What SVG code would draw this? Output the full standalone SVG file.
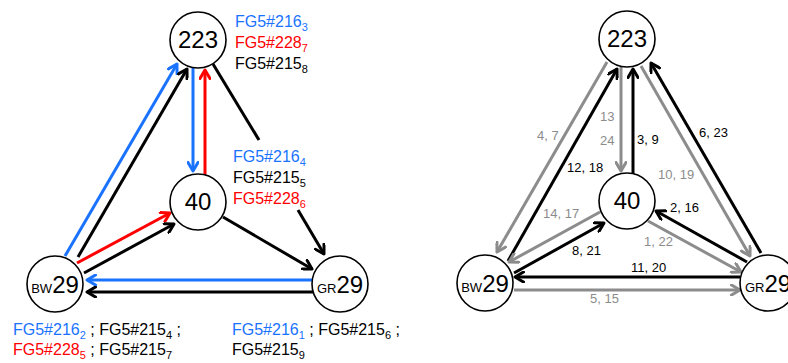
<svg xmlns="http://www.w3.org/2000/svg" width="788" height="363" viewBox="0 0 788 363">
<style>
.n circle{fill:#fff;stroke:#000;stroke-width:1.6}
.big{font-family:"Liberation Sans",Arial,sans-serif;font-size:24px;fill:#000}
.sm{font-size:13px}
.c line{stroke-width:3;fill:none}
.k{stroke:#000}
.b{stroke:#1a73ff}
.r{stroke:#ff0000}
.g{stroke:#8c8c8c}
.lab{font-family:"Liberation Sans",Arial,sans-serif;font-size:16px}
.el{font-family:"Liberation Sans",Arial,sans-serif;font-size:13px}
.tb{fill:#1a73ff}.tr{fill:#ff0000}.tk{fill:#000}.tg{fill:#8c8c8c}
</style>
<defs>
<marker id="mk" viewBox="0 0 12 12" refX="10" refY="6" markerWidth="12" markerHeight="12" markerUnits="userSpaceOnUse" orient="auto"><path d="M1.5,1 L10,6 L1.5,11" fill="none" stroke="#000" stroke-width="3" stroke-linecap="round" stroke-linejoin="round"/></marker>
<marker id="mb" viewBox="0 0 12 12" refX="10" refY="6" markerWidth="12" markerHeight="12" markerUnits="userSpaceOnUse" orient="auto"><path d="M1.5,1 L10,6 L1.5,11" fill="none" stroke="#1a73ff" stroke-width="3" stroke-linecap="round" stroke-linejoin="round"/></marker>
<marker id="mr" viewBox="0 0 12 12" refX="10" refY="6" markerWidth="12" markerHeight="12" markerUnits="userSpaceOnUse" orient="auto"><path d="M1.5,1 L10,6 L1.5,11" fill="none" stroke="#ff0000" stroke-width="3" stroke-linecap="round" stroke-linejoin="round"/></marker>
<marker id="mg" viewBox="0 0 12 12" refX="10" refY="6" markerWidth="12" markerHeight="12" markerUnits="userSpaceOnUse" orient="auto"><path d="M1.5,1 L10,6 L1.5,11" fill="none" stroke="#8c8c8c" stroke-width="3" stroke-linecap="round" stroke-linejoin="round"/></marker>
</defs>
<rect width="788" height="363" fill="#fff"/>

<g id="connectors" class="c">
<line class="b" x1="65" y1="256" x2="177" y2="64" marker-end="url(#mb)"/>
<line class="k" x1="78" y1="257" x2="187" y2="69" marker-end="url(#mk)"/>
<line class="b" x1="193" y1="68" x2="193" y2="171" marker-end="url(#mb)"/>
<line class="r" x1="205" y1="175" x2="205" y2="70" marker-end="url(#mr)"/>
<line class="k" x1="213" y1="64" x2="259" y2="140"/>
<line class="k" x1="298" y1="210" x2="324" y2="254" marker-end="url(#mk)"/>
<line class="r" x1="77" y1="263" x2="170" y2="213" marker-end="url(#mr)"/>
<line class="k" x1="84" y1="273" x2="174" y2="224" marker-end="url(#mk)"/>
<line class="k" x1="223" y1="217" x2="312" y2="269" marker-end="url(#mk)"/>
<line class="b" x1="312" y1="280" x2="87" y2="280" marker-end="url(#mb)"/>
<line class="k" x1="313" y1="292" x2="87" y2="292" marker-end="url(#mk)"/>

<line class="g" x1="607" y1="62" x2="497" y2="252" marker-end="url(#mg)"/>
<line class="k" x1="508" y1="261" x2="617" y2="69" marker-end="url(#mk)"/>
<line class="g" x1="621" y1="67" x2="621" y2="171" marker-end="url(#mg)"/>
<line class="k" x1="633" y1="174" x2="633" y2="69" marker-end="url(#mk)"/>
<line class="g" x1="641" y1="66" x2="750" y2="256" marker-end="url(#mg)"/>
<line class="k" x1="761" y1="253" x2="651" y2="63" marker-end="url(#mk)"/>
<line class="g" x1="600" y1="212" x2="509" y2="262" marker-end="url(#mg)"/>
<line class="k" x1="514" y1="273" x2="604" y2="223" marker-end="url(#mk)"/>
<line class="k" x1="747" y1="262" x2="656" y2="211" marker-end="url(#mk)"/>
<line class="g" x1="648" y1="221" x2="741" y2="272" marker-end="url(#mg)"/>
<line class="k" x1="740" y1="277" x2="515" y2="277" marker-end="url(#mk)"/>
<line class="g" x1="514" y1="290" x2="740" y2="290" marker-end="url(#mg)"/>
</g>

<g id="n223L" class="n"><circle cx="198" cy="40" r="28"/><text class="big" x="198" y="48" text-anchor="middle">223</text></g>
<g id="n40L" class="n"><circle cx="198" cy="202" r="28"/><text class="big" x="198" y="210" text-anchor="middle">40</text></g>
<g id="nBWL" class="n"><circle cx="55" cy="284" r="28"/><text class="big" x="55" y="293" text-anchor="middle"><tspan class="sm">BW</tspan>29</text></g>
<g id="nGRL" class="n"><circle cx="340" cy="284" r="28"/><text class="big" x="340" y="293" text-anchor="middle"><tspan class="sm">GR</tspan>29</text></g>

<g id="n223R" class="n"><circle cx="627" cy="39" r="28"/><text class="big" x="627" y="47" text-anchor="middle">223</text></g>
<g id="n40R" class="n"><circle cx="627" cy="201" r="28"/><text class="big" x="627" y="209" text-anchor="middle">40</text></g>
<g id="nBWR" class="n"><circle cx="485" cy="283" r="28"/><text class="big" x="485" y="292" text-anchor="middle"><tspan class="sm">BW</tspan>29</text></g>
<g id="nGRR" class="n"><circle cx="768" cy="283" r="28"/><text class="big" x="768" y="292" text-anchor="middle"><tspan class="sm">GR</tspan>29</text></g>

<g id="labelsL" class="lab">
<text x="235" y="27" class="tb">FG5#216<tspan font-size="11" dy="4">3</tspan></text>
<text x="235" y="48" class="tr">FG5#228<tspan font-size="11" dy="4">7</tspan></text>
<text x="235" y="69" class="tk">FG5#215<tspan font-size="11" dy="4">8</tspan></text>
<text x="233" y="162" class="tb">FG5#216<tspan font-size="11" dy="4">4</tspan></text>
<text x="233" y="183" class="tk">FG5#215<tspan font-size="11" dy="4">5</tspan></text>
<text x="233" y="204" class="tr">FG5#228<tspan font-size="11" dy="4">6</tspan></text>
<text x="13" y="335"><tspan class="tb">FG5#216</tspan><tspan class="tb" font-size="11" dy="4">2</tspan><tspan class="tk" dy="-4"> ; FG5#215</tspan><tspan class="tk" font-size="11" dy="4">4</tspan><tspan class="tk" dy="-4"> ;</tspan></text>
<text x="13" y="355"><tspan class="tr">FG5#228</tspan><tspan class="tr" font-size="11" dy="4">5</tspan><tspan class="tk" dy="-4"> ; FG5#215</tspan><tspan class="tk" font-size="11" dy="4">7</tspan></text>
<text x="232" y="335"><tspan class="tb">FG5#216</tspan><tspan class="tb" font-size="11" dy="4">1</tspan><tspan class="tk" dy="-4"> ; FG5#215</tspan><tspan class="tk" font-size="11" dy="4">6</tspan><tspan class="tk" dy="-4"> ;</tspan></text>
<text x="232" y="355" class="tk">FG5#215<tspan font-size="11" dy="4">9</tspan></text>
</g>

<g id="labelsR" class="el">
<text x="537" y="140" class="tg">4, 7</text>
<text x="567" y="172" class="tk">12, 18</text>
<text x="600" y="121" class="tg">13</text>
<text x="600" y="145" class="tg">24</text>
<text x="637" y="144" class="tk">3, 9</text>
<text x="699" y="137" class="tk">6, 23</text>
<text x="658" y="179" class="tg">10, 19</text>
<text x="543" y="218" class="tg">14, 17</text>
<text x="572" y="255" class="tk">8, 21</text>
<text x="670" y="212" class="tk">2, 16</text>
<text x="644" y="246" class="tg">1, 22</text>
<text x="631" y="272" class="tk">11, 20</text>
<text x="590" y="303" class="tg">5, 15</text>
</g>
</svg>
